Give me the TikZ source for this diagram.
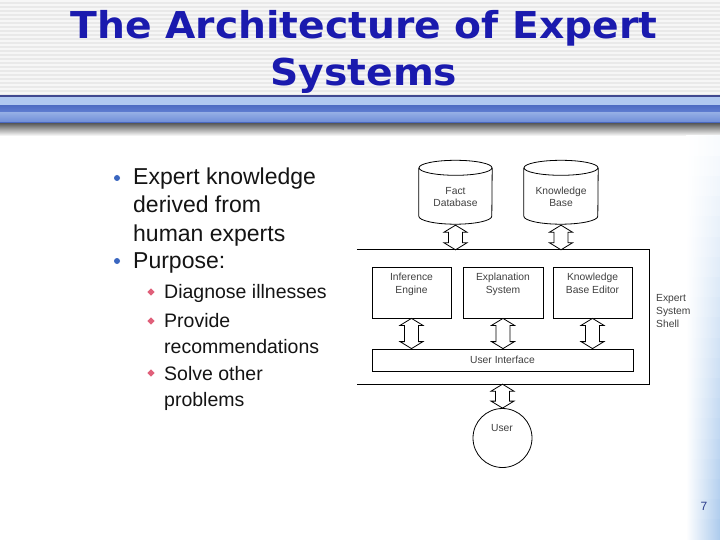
\documentclass[tikz,border=0pt]{standalone}
\usepackage{fontspec}
\setmainfont{Liberation Sans}
\newfontfamily\titlefont{DejaVu Sans}
\usetikzlibrary{calc}
\definecolor{titleblue}{HTML}{1A1AAE}
\definecolor{stripegray}{HTML}{E9E9E9}
\definecolor{navy}{HTML}{404890}
\definecolor{bulletblue}{HTML}{3A66C0}
\definecolor{bulletred}{HTML}{E0607A}
\definecolor{diagtext}{HTML}{404040}
\definecolor{pagenum}{HTML}{2A3A8A}
\definecolor{stripblue}{HTML}{A8C8EC}
\newcommand{\dblarrow}[2]{\draw[diag, fill=white] let \p1=(#1), \p2=(#2) in
  (\x1,\y1) -- (\x1+11.5pt,\y1-7pt) -- (\x1+7pt,\y1-7pt) -- (\x1+7pt,\y2+7pt)
  -- (\x1+11.5pt,\y2+7pt) -- (\x1,\y2) -- (\x1-11.5pt,\y2+7pt) -- (\x1-7pt,\y2+7pt)
  -- (\x1-7pt,\y1-7pt) -- (\x1-11.5pt,\y1-7pt) -- cycle;}
\tikzset{
  diag/.style={draw=black, line width=0.8pt},
  lbl/.style={font=\fontsize{10.3}{12.7}\selectfont, text=diagtext, align=center, inner sep=0},
  boxnode/.style={diag, inner sep=0},
  bodytext/.style={anchor=base west, inner sep=0, text=black!92},
  big/.style={bodytext, font=\fontsize{23}{27}\selectfont},
  small/.style={bodytext, font=\fontsize{19.5}{23}\selectfont},
  ttl/.style={font=\titlefont\bfseries\fontsize{37}{40}\selectfont, text=titleblue, anchor=base, inner sep=0}
}
\begin{document}
\begin{tikzpicture}[x=1pt,y=-1pt]
\useasboundingbox (0,0) rectangle (720,540);
\fill[white] (0,0) rectangle (720,540);
% title stripes
\fill[stripegray] (0,0) rectangle (720,95);
\foreach \i in {0,...,23} \fill[white!60!stripegray] (0,\i*4) rectangle (720,\i*4+2);
% header bar
\fill[navy] (0,95) rectangle (720,97);
\fill[fill={rgb,255:red,176;green,200;blue,240}] (0,97) rectangle (720,106);
\shade[top color={rgb,255:red,80;green,110;blue,196}, bottom color={rgb,255:red,98;green,128;blue,212}] (0,106) rectangle (720,113);
\shade[top color={rgb,255:red,146;green,172;blue,228}, bottom color={rgb,255:red,112;green,142;blue,216}] (0,113) rectangle (720,122);
\fill[fill={rgb,255:red,74;green,104;blue,192}] (0,122) rectangle (720,124);
\shade[top color={rgb,255:red,100;green,100;blue,100}, bottom color=white] (0,124) rectangle (720,136);
% right strip
\foreach \k in {0,...,19} {
  \pgfmathsetmacro{\pct}{8+\k*4.6}
  \shade[left color=white, right color=stripblue!\pct!white] (686,{136+\k*20.2}) rectangle (720,{136+(\k+1)*20.2+0.5});
}
% title
\node[ttl] (t1) at (364,39) {\scalebox{1.06}[1]{The Architecture of Expert}};
\node[ttl] (t2) at (364,86) {\scalebox{1.06}[1]{Systems}};
% bullets
\fill[bulletblue] (117,178) circle[radius=3pt];
\fill[bulletblue] (117,261) circle[radius=3pt];
\foreach \yy in {292,321,373}
  \fill[bulletred] (151,\yy-3.6) -- (154.6,\yy) -- (151,\yy+3.6) -- (147.4,\yy) -- cycle;
\node[big] (b1) at (133,185) {Expert knowledge};
\node[big] (b2) at (133,213) {derived from};
\node[big] (b3) at (133,241) {human experts};
\node[big] (b4) at (133,268) {Purpose:};
\node[small] (s1) at (164,298) {Diagnose illnesses};
\node[small] (s2) at (164,327) {Provide};
\node[small] (s3) at (164,353) {recommendations};
\node[small] (s4) at (164,380) {Solve other};
\node[small] (s5) at (164,406) {problems};
% cylinders
\node[minimum width=73, minimum height=48, inner sep=0] (fact) at (455.5,192) {};
\draw[diag] (fact.north) ellipse[x radius=36.5pt, y radius=7.5pt];
\draw[diag] (fact.north west) -- (fact.south west) arc[start angle=180, end angle=360, x radius=36.5pt, y radius=8pt] -- (fact.north east);
\node[lbl, anchor=base] (factT) at (455.5,207) {Fact\\Database};
\node[minimum width=74, minimum height=48, inner sep=0] (kb) at (561,192) {};
\draw[diag] (kb.north) ellipse[x radius=37pt, y radius=7.5pt];
\draw[diag] (kb.north west) -- (kb.south west) arc[start angle=180, end angle=360, x radius=37pt, y radius=8pt] -- (kb.north east);
\node[lbl, anchor=base] (kbT) at (561,207) {Knowledge\\Base};
% shell
\node[minimum width=292, minimum height=134, inner sep=0] (shell) at (503,317) {};
\draw[diag] (shell.north west) -- (shell.north east) -- (shell.south east) -- (shell.south west);
\node[lbl, align=left, anchor=base west] (shellT) at (656,327) {Expert\\System\\Shell};
% inner boxes
\node[boxnode, minimum width=79, minimum height=51] (ie) at (411.5,292.5) {};
\node[boxnode, minimum width=80, minimum height=51] (es) at (503,292.5) {};
\node[boxnode, minimum width=79, minimum height=51] (kbe) at (592.5,292.5) {};
\node[boxnode, minimum width=261, minimum height=22] (ui) at (502.5,360) {};
\node[lbl, anchor=base] (ieT) at (411.5,293) {Inference\\Engine};
\node[lbl, anchor=base] (esT) at (503,293) {Explanation\\System};
\node[lbl, anchor=base] (kbeT) at (592.5,293) {Knowledge\\Base Editor};
\node[lbl, anchor=base] (uiT) at (502.5,363) {User Interface};
% user
\node[diag, circle, minimum size=59, inner sep=0] (user) at (502.5,438) {};
\node[lbl, anchor=base] (userT) at (502,431) {User};
% arrows
\dblarrow{$(fact.south)+(0,9)$}{fact.south |- shell.north}
\dblarrow{$(kb.south)+(0,9)$}{kb.south |- shell.north}
\dblarrow{ie.south}{ie.south |- ui.north}
\dblarrow{es.south}{es.south |- ui.north}
\dblarrow{kbe.south}{kbe.south |- ui.north}
\dblarrow{user.north |- shell.south}{user.north}
% page number
\node[font=\fontsize{12}{14}\selectfont, text=pagenum, anchor=base, inner sep=0] (pg) at (704,510) {7};
\end{tikzpicture}
\end{document}
